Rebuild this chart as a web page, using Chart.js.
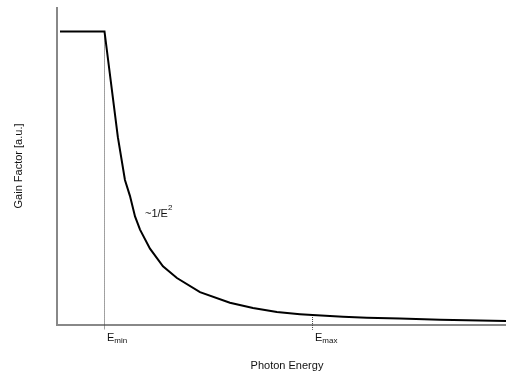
<!DOCTYPE html>
<html><head><meta charset="utf-8">
<script src="https://cdn.jsdelivr.net/npm/chart.js@4"></script>
<style>html,body{margin:0;padding:0;background:#fff}#wrap{width:506px;height:374px}</style>
</head><body><div id="wrap"><canvas id="c" width="506" height="374"></canvas></div>
<script>
// Photon energy (arbitrary units) and gain factor (a.u.)
const energy = [0.3, 4.76, 6.1, 6.81, 7.31, 7.82, 8.32, 9.32, 10.62, 12.02, 14.33, 17.33, 19.64, 22.04, 24.35, 25.61, 28.66, 31.06, 34.37, 38.4, 45];
const gain   = [1.0, 1.0, 0.64, 0.494, 0.44, 0.37, 0.325, 0.26, 0.2, 0.16, 0.112, 0.076, 0.058, 0.044, 0.037, 0.034, 0.028, 0.025, 0.022, 0.018, 0.0136];
const markers = [4.76, 25.61];           // E_min, E_max
const markerTop = [1.0, 0.034];           // where the dotted guide lines meet the curve
const markerLabels = [["E", "min"], ["E", "max"]];
const xRange = [0, 45];
const yRange = [0, 1.08];

const curve = energy.map((e, i) => ({x: e, y: gain[i]}));
const guides = markers.map((m, i) => ({
  type: 'line',
  data: [{x: m, y: markerTop[i]}, {x: m, y: -0.016}],
  borderColor: '#444', borderWidth: 1, borderDash: [1, 1],
  pointRadius: 0, clip: false, order: 2
}));

const textPlugin = {
  id: 'texts',
  afterDraw(chart) {
    const ctx = chart.ctx, xs = chart.scales.x;
    ctx.save();
    ctx.fillStyle = '#111';
    ctx.textBaseline = 'alphabetic';
    markers.forEach((m, i) => {
      const px = xs.getPixelForValue(m);
      ctx.font = '11px "Liberation Sans", Arial, sans-serif';
      ctx.textAlign = 'left';
      ctx.fillText(markerLabels[i][0], px + 2.5, 341);
      const w = ctx.measureText(markerLabels[i][0]).width;
      ctx.font = '8px "Liberation Sans", Arial, sans-serif';
      ctx.fillText(markerLabels[i][1], px + 2.5 + w, 343);
    });
    // annotation
    ctx.font = '11px "Liberation Sans", Arial, sans-serif';
    ctx.textAlign = 'left';
    ctx.fillText('~1/E', 145, 217);
    const aw = ctx.measureText('~1/E').width;
    ctx.font = '8px "Liberation Sans", Arial, sans-serif';
    ctx.fillText('2', 145 + aw, 210);
    // axis titles
    ctx.font = '11px "Liberation Sans", Arial, sans-serif';
    ctx.textAlign = 'center';
    ctx.fillText('Photon Energy', 287, 369);
    ctx.translate(22, 166);
    ctx.rotate(-Math.PI / 2);
    ctx.fillText('Gain Factor [a.u.]', 0, 0);
    ctx.restore();
  }
};

new Chart(document.getElementById('c'), {
  type: 'line',
  data: {
    datasets: [{
      data: curve, borderColor: '#000', borderWidth: 2, pointRadius: 0, tension: 0, order: 1
    }, ...guides]
  },
  options: {
    responsive: false, animation: false,
    layout: {padding: {top: 8, right: 0, left: 0, bottom: 0}},
    plugins: {legend: {display: false}, tooltip: {enabled: false}},
    scales: {
      x: {type: 'linear', min: xRange[0], max: xRange[1],
          ticks: {display: false}, grid: {display: false, drawTicks: false},
          border: {color: '#888', width: 2},
          afterFit(s) { s.height = 49; }},
      y: {type: 'linear', min: yRange[0], max: yRange[1],
          ticks: {display: false}, grid: {display: false, drawTicks: false},
          border: {color: '#888', width: 2},
          afterFit(s) { s.width = 57; }}
    }
  },
  plugins: [textPlugin]
});
</script></body></html>
